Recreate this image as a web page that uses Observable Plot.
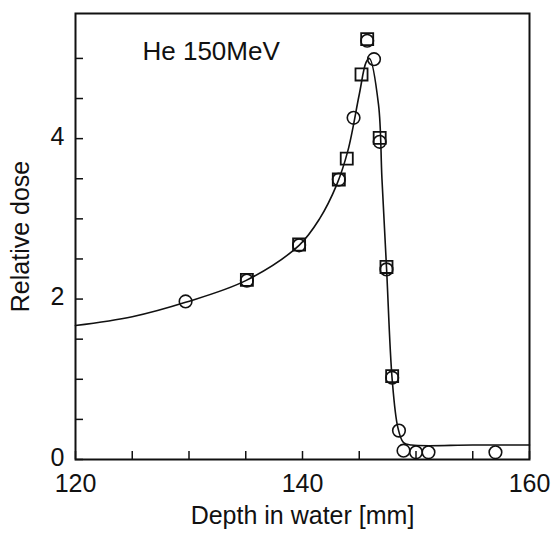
<!DOCTYPE html>
<html>
<head>
<meta charset="utf-8">
<script src="https://cdn.jsdelivr.net/npm/d3@7"></script>
<script src="https://cdn.jsdelivr.net/npm/@observablehq/plot@0.6"></script>
<style>
  html, body { margin: 0; padding: 0; background: #fff; }
  #chart svg { display: block; }
</style>
</head>
<body>
<div id="chart"></div>
<script>
// Measured points (depth mm, relative dose)
const circleDepth = [129.7, 135.1, 139.7, 143.2, 144.5, 145.7, 146.3, 146.8, 147.4, 147.9, 148.5, 148.9, 150.0, 151.1, 157.0];
const circleDose  = [1.97, 2.23, 2.67, 3.49, 4.26, 5.22, 4.99, 3.96, 2.37, 1.02, 0.36, 0.11, 0.09, 0.09, 0.09];
const squareDepth = [135.1, 139.7, 143.2, 143.9, 145.2, 145.7, 146.8, 147.4, 147.9];
const squareDose  = [2.24, 2.68, 3.49, 3.75, 4.80, 5.24, 4.01, 2.40, 1.04];
// Calculated curve
const curveDepth = [120, 125, 129.7, 135, 139.7, 141.5, 143, 144, 145, 145.6, 145.9, 146.7, 147.0, 147.4, 147.9, 148.4, 148.9, 149.6, 155, 160];
const curveDose  = [1.67, 1.78, 1.96, 2.23, 2.67, 3.0, 3.42, 3.85, 4.55, 4.95, 5.0, 4.42, 3.5, 2.4, 1.0, 0.4, 0.21, 0.18, 0.18, 0.18];
// Ticks & labels
const xMinorTicks = [120, 125, 130, 135, 140, 145, 150, 155, 160];
const xLabelTicks = [120, 140, 160];
const yMinorTicks = [0, 0.5, 1, 1.5, 2, 2.5, 3, 3.5, 4, 4.5, 5];
const yLabelTicks = [0, 2, 4];
const annotation = [{x: 125.9, y: 5.08, text: "He 150MeV"}];

const circles = circleDepth.map((d, i) => ({depth: d, dose: circleDose[i]}));
const squares = squareDepth.map((d, i) => ({depth: d, dose: squareDose[i]}));
const curve = curveDepth.map((d, i) => ({depth: d, dose: curveDose[i]}));

const font = "'Liberation Sans', Arial, Helvetica, sans-serif";

const chart = Plot.plot({
  width: 551,
  height: 533,
  marginLeft: 75,
  marginRight: 22,
  marginTop: 13,
  marginBottom: 74,
  style: {fontFamily: font, fontSize: "25px", color: "#111", background: "#fff"},
  x: {domain: [120, 160]},
  y: {domain: [0, 5.56]},
  marks: [
    Plot.axisX({ticks: xMinorTicks, tickSize: -8, tickFormat: () => "", label: null, strokeWidth: 1.5}),
    Plot.axisX({ticks: xLabelTicks, tickSize: 0, tickPadding: 15, fontSize: 25, tickFormat: d3.format("d"), label: "Depth in water [mm]", labelAnchor: "center", labelArrow: "none", labelOffset: 64}),
    Plot.axisY({ticks: yMinorTicks, tickSize: -8, tickFormat: () => "", label: null, strokeWidth: 1.5}),
    Plot.axisY({ticks: yLabelTicks, tickSize: 0, tickPadding: 11, fontSize: 25, dy: -2, tickFormat: d3.format("d"), label: "Relative dose", labelAnchor: "center", labelArrow: "none", labelOffset: 64}),
    Plot.line(curve, {x: "depth", y: "dose", curve: "catmull-rom", stroke: "#111", strokeWidth: 1.6}),
    Plot.dot(squares, {x: "depth", y: "dose", symbol: "square", r: 6.8, stroke: "#111", strokeWidth: 1.8, fill: "none"}),
    Plot.dot(circles, {x: "depth", y: "dose", symbol: "circle", r: 6.3, stroke: "#111", strokeWidth: 1.6, fill: "none"}),
    Plot.text(annotation, {x: "x", y: "y", text: "text", textAnchor: "start", fontSize: 26, fill: "#111"}),
    Plot.frame({stroke: "#111", strokeWidth: 2})
  ]
});
document.getElementById("chart").appendChild(chart);
</script>
</body>
</html>
